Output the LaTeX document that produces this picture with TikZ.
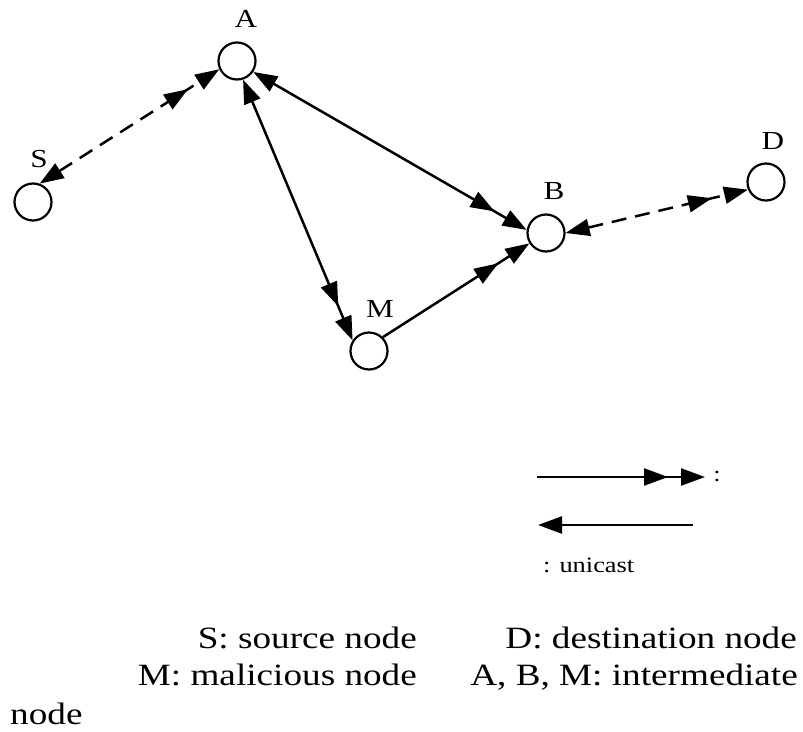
\documentclass[tikz,border=0pt]{standalone}
\usepackage{fontspec}
\setmainfont{Liberation Serif}
\newfontfamily\widefont[FakeStretch=1.2]{Liberation Serif}
\usetikzlibrary{arrows.meta}
\begin{document}
\begin{tikzpicture}[x=1pt,y=-1pt,
  station/.style={circle, draw, line width=2.2pt, minimum size=37pt, inner sep=0pt},
  tag/.style={inner sep=0pt, font=\widefont\fontsize{26}{30}\selectfont},
  caption/.style={inner sep=0pt, font=\widefont\fontsize{31}{37}\selectfont},
  small/.style={inner sep=0pt, font=\widefont\fontsize{22}{26}\selectfont},
  link/.style={line width=2.5pt},
  bcast/.style={link, dash pattern=on 15pt off 9pt},
  one/.style={-{Triangle[length=24pt,width=17pt]}},
  two/.style={-{Triangle[length=24pt,width=17pt,sep=13pt]Triangle[length=24pt,width=17pt]}},
  duo/.style={{Triangle[length=24pt,width=17pt]}-{Triangle[length=24pt,width=17pt,sep=13pt]Triangle[length=24pt,width=17pt]}}
]
\useasboundingbox (0,0) rectangle (803,731);

% stations
\node[station] (A) at (237,61) {};
\node[station] (S) at (33,202) {};
\node[station] (B) at (546,233) {};
\node[station] (D) at (766,182) {};
\node[station] (M) at (369,351) {};

\node[tag] (lA) at (246,19) {A};
\node[tag] (lS) at (39,159) {S};
\node[tag] (lB) at (554,191) {B};
\node[tag] (lD) at (773,141) {D};
\node[tag] (lM) at (380,309) {M};

% links
\draw[bcast, duo] (S.70) -- (A.205);
\draw[link, duo] (A.326) -- (B.171);
\draw[link, duo] (A.288) -- (M.147);
\draw[link, two] (M.45) -- (B.212);
\draw[bcast, duo] (B.0) -- (D.203);

% legend
\coordinate (k1a) at (537,477);
\coordinate (k1b) at (705,477);
\draw[link, two] (k1a) -- (k1b);
\node[small] (k1t) at (717,476) {:};
\coordinate (k2a) at (693,525);
\coordinate (k2b) at (538,525);
\draw[link, one] (k2a) -- (k2b);
\node[small, anchor=base west] (k2t) at (543,572) {:\hspace{9pt}unicast};

% caption
\node[caption, anchor=base east] (c1) at (417,648) {S: source node};
\node[caption, anchor=base east] (c2) at (797,648) {D: destination node};
\node[caption, anchor=base east] (c3) at (417,685) {M: malicious node};
\node[caption, anchor=base east] (c4) at (798,685) {A, B, M: intermediate};
\node[caption, anchor=base west] (c5) at (10,724) {node};
\end{tikzpicture}
\end{document}
